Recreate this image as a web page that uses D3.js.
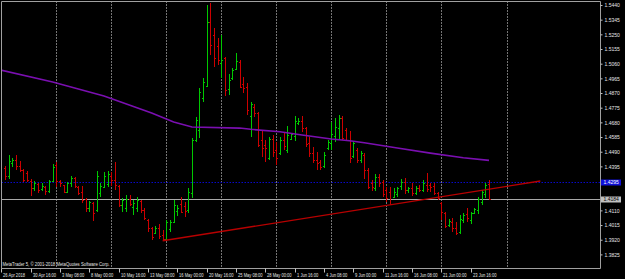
<!DOCTYPE html>
<html>
<head>
<meta charset="utf-8">
<script src="https://cdn.jsdelivr.net/npm/d3@7"></script>
<style>
  body { margin: 0; background: #000; }
  svg { display: block; }
  text { font-family: "Liberation Sans", Arial, sans-serif; }
</style>
</head>
<body>
<svg id="chart" width="625" height="279"></svg>
<script>
// H8 bars, oldest first
const open = [1.4385,1.4333,1.4417,1.4436,1.4398,1.4372,1.4352,1.4300,1.4255,1.4281,
  1.4249,1.4262,1.4236,1.4300,1.4404,1.4300,1.4274,1.4229,1.4287,1.4320,
  1.4262,1.4229,1.4184,1.4125,1.4158,1.4112,1.4223,1.4262,1.4281,1.4333,
  1.4307,1.4268,1.4145,1.4125,1.4184,1.4132,1.4125,1.4171,1.4112,1.4048,
  1.3996,1.3963,1.3996,1.3950,1.3924,1.3989,1.4035,1.4106,1.4151,1.4138,
  1.4112,1.4223,1.4566,1.4631,1.4838,1.4915,1.5330,1.5246,1.5175,1.5064,
  1.5097,1.4896,1.4967,1.5026,1.5071,1.4928,1.4909,1.4721,1.4780,1.4741,
  1.4566,1.4534,1.4450,1.4572,1.4501,1.4481,1.4566,1.4501,1.4572,1.4592,
  1.4676,1.4689,1.4644,1.4546,1.4481,1.4436,1.4423,1.4398,1.4514,1.4546,
  1.4592,1.4644,1.4708,1.4631,1.4566,1.4462,1.4501,1.4436,1.4469,1.4372,
  1.4287,1.4255,1.4326,1.4294,1.4242,1.4229,1.4197,1.4216,1.4268,1.4294,
  1.4242,1.4255,1.4223,1.4255,1.4242,1.4274,1.4274,1.4268,1.4223,1.4158,
  1.4093,1.4015,1.4035,1.3996,1.3970,1.4048,1.4087,1.4048,1.4093,1.4112,
  1.4164,1.4216,1.4281];
const high = [1.4398,1.4469,1.4450,1.4469,1.4430,1.4378,1.4365,1.4313,1.4300,1.4287,
  1.4287,1.4268,1.4307,1.4411,1.4423,1.4307,1.4274,1.4294,1.4333,1.4326,
  1.4268,1.4268,1.4190,1.4171,1.4164,1.4365,1.4287,1.4359,1.4365,1.4359,
  1.4423,1.4274,1.4190,1.4210,1.4210,1.4177,1.4197,1.4177,1.4125,1.4054,
  1.4002,1.4009,1.4022,1.3983,1.4048,1.4048,1.4177,1.4145,1.4197,1.4164,
  1.4255,1.4579,1.4715,1.4902,1.4967,1.5440,1.5453,1.5291,1.5226,1.5246,
  1.5103,1.4993,1.5032,1.5129,1.5084,1.4974,1.4935,1.4812,1.4799,1.4747,
  1.4631,1.4566,1.4585,1.4598,1.4553,1.4585,1.4618,1.4657,1.4611,1.4721,
  1.4708,1.4721,1.4650,1.4585,1.4520,1.4488,1.4436,1.4488,1.4566,1.4682,
  1.4708,1.4728,1.4721,1.4644,1.4624,1.4553,1.4514,1.4494,1.4481,1.4385,
  1.4307,1.4346,1.4346,1.4307,1.4262,1.4262,1.4255,1.4262,1.4313,1.4320,
  1.4262,1.4287,1.4268,1.4274,1.4307,1.4352,1.4287,1.4287,1.4229,1.4164,
  1.4099,1.4054,1.4061,1.4035,1.4080,1.4093,1.4125,1.4099,1.4125,1.4197,
  1.4242,1.4287,1.4307];
const low = [1.4307,1.4313,1.4391,1.4372,1.4359,1.4294,1.4294,1.4203,1.4236,1.4223,
  1.4236,1.4210,1.4223,1.4294,1.4262,1.4262,1.4223,1.4223,1.4262,1.4255,
  1.4210,1.4158,1.4099,1.4099,1.4041,1.4099,1.4197,1.4255,1.4262,1.4268,
  1.4242,1.4132,1.4099,1.4099,1.4138,1.4080,1.4099,1.4093,1.4048,1.3970,
  1.3918,1.3957,1.3924,1.3911,1.3918,1.3970,1.4028,1.4074,1.4093,1.4067,
  1.4093,1.4190,1.4553,1.4579,1.4812,1.4909,1.5116,1.5038,1.5051,1.4967,
  1.4851,1.4857,1.4954,1.5019,1.4902,1.4870,1.4728,1.4585,1.4715,1.4520,
  1.4456,1.4423,1.4436,1.4456,1.4404,1.4469,1.4501,1.4481,1.4566,1.4559,
  1.4663,1.4618,1.4520,1.4456,1.4417,1.4372,1.4372,1.4385,1.4501,1.4501,
  1.4553,1.4566,1.4566,1.4559,1.4417,1.4450,1.4417,1.4417,1.4313,1.4249,
  1.4236,1.4236,1.4262,1.4197,1.4164,1.4145,1.4190,1.4197,1.4242,1.4216,
  1.4223,1.4203,1.4210,1.4229,1.4229,1.4229,1.4229,1.4210,1.4177,1.4048,
  1.3996,1.4002,1.3970,1.3950,1.3957,1.4028,1.4035,1.4022,1.4087,1.4087,
  1.4145,1.4190,1.4177];
const close = [1.4333,1.4430,1.4436,1.4398,1.4372,1.4307,1.4307,1.4255,1.4287,1.4242,
  1.4268,1.4236,1.4300,1.4391,1.4300,1.4287,1.4229,1.4287,1.4320,1.4268,
  1.4223,1.4177,1.4125,1.4164,1.4093,1.4333,1.4268,1.4333,1.4346,1.4307,
  1.4274,1.4145,1.4177,1.4184,1.4151,1.4158,1.4177,1.4112,1.4061,1.3996,
  1.3937,1.3996,1.3944,1.3924,1.4035,1.4035,1.4145,1.4125,1.4099,1.4106,
  1.4229,1.4566,1.4695,1.4877,1.4941,1.5330,1.5181,1.5097,1.5084,1.5084,
  1.4890,1.4954,1.5019,1.5077,1.4909,1.4902,1.4760,1.4799,1.4741,1.4534,
  1.4514,1.4514,1.4572,1.4488,1.4450,1.4566,1.4527,1.4598,1.4605,1.4689,
  1.4689,1.4644,1.4540,1.4481,1.4436,1.4417,1.4391,1.4469,1.4553,1.4605,
  1.4650,1.4708,1.4579,1.4566,1.4450,1.4546,1.4436,1.4481,1.4372,1.4262,
  1.4262,1.4326,1.4287,1.4216,1.4190,1.4151,1.4229,1.4255,1.4294,1.4242,
  1.4255,1.4223,1.4255,1.4242,1.4287,1.4249,1.4262,1.4223,1.4190,1.4099,
  1.4009,1.4041,1.3996,1.3963,1.4054,1.4080,1.4061,1.4093,1.4119,1.4184,
  1.4229,1.4274,1.4184];

// moving average, read at a few bars
const maBars =   [-1.3, 13, 27, 40, 46, 51, 64, 67, 75, 81, 89, 94, 98, 107, 116, 125, 132];
const maValues = [1.5019,1.4941,1.4851,1.4741,1.4682,1.4650,1.4643,1.4635,1.4619,1.4598,
  1.4572,1.4561,1.4548,1.4514,1.4481,1.4451,1.4434];

// trend line
const trendBars = [43, 146];
const trendValues = [1.3913, 1.4300];

const levelPrice = 1.4295;

const priceTicks = [1.5440,1.5345,1.5250,1.5155,1.5060,1.4965,1.4870,1.4775,1.4680,1.4585,
  1.4490,1.4395,1.4300,1.4205,1.4110,1.4015,1.3920,1.3825];
const timeLabelBars = [-1, 7, 15, 23, 31, 39, 47, 55, 63, 71, 79, 87, 95, 103, 111, 119, 127];
const timeLabels = ["26 Apr 2018","30 Apr 16:00","3 May 08:00","8 May 00:00","10 May 16:00",
  "13 May 08:00","16 May 00:00","20 May 16:00","25 May 08:00","28 May 00:00","1 Jun 16:00",
  "4 Jun 08:00","9 Jun 00:00","11 Jun 16:00","16 Jun 08:00","21 Jun 00:00","23 Jun 16:00"];
const gridBars = [14, 29, 44, 59, 74, 89, 104, 119, 137];

const svg = d3.select("#chart");
const width = +svg.attr("width");
const height = +svg.attr("height");

const plotLeft = 1.5, plotRight = 600.5, plotTop = 1.5, plotBottom = 268.5;
const upColor = "#00c800", downColor = "#cc0000";
const fontSize = "5.5px";

const x = d3.scaleLinear().domain([0, 132]).range([5, 489]);
const y = d3.scaleLinear().domain([1.3825, 1.5440]).range([254.4, 5]);
const px = v => Math.round(x(v)) + 0.5;

// squeeze text horizontally (the chart font is a narrow one), keeping its left edge
function squeeze(sel, k) {
  sel.each(function() {
    const t = d3.select(this);
    const x0 = +t.attr("x") || 0;
    t.attr("x", x0 / k).attr("transform", `scale(${k},1)`);
  });
}

svg.append("rect").attr("width", width).attr("height", height).attr("fill", "#000");

svg.append("clipPath").attr("id", "plot")
  .append("rect").attr("x", plotLeft).attr("y", plotTop)
  .attr("width", plotRight - plotLeft).attr("height", plotBottom - plotTop);

const plot = svg.append("g").attr("clip-path", "url(#plot)");

// vertical dotted grid
plot.selectAll(".grid")
  .data(gridBars)
  .enter().append("line")
  .attr("x1", d => px(d)).attr("x2", d => px(d))
  .attr("y1", plotTop).attr("y2", plotBottom)
  .attr("stroke", "#e8e8e8")
  .attr("stroke-dasharray", "1,2");

// price level line (blue, dotted) and bid line (gray)
const levelY = Math.round(y(levelPrice)) + 0.5;
plot.append("line")
  .attr("x1", plotLeft).attr("x2", plotRight)
  .attr("y1", levelY).attr("y2", levelY)
  .attr("stroke", "#0808c8").attr("stroke-dasharray", "1.5,1.5");

const bid = close[close.length - 1];
const bidY = Math.round(y(bid)) + 0.5;
plot.append("line")
  .attr("x1", plotLeft).attr("x2", plotRight)
  .attr("y1", bidY).attr("y2", bidY)
  .attr("stroke", "#a8a8a8");

// bars
const bars = plot.selectAll(".bar")
  .data(open.map((o, i) => ({ i, o, h: high[i], l: low[i], c: close[i] })))
  .enter().append("g")
  .attr("class", "bar")
  .attr("fill", d => d.c >= d.o ? upColor : downColor)
  .attr("shape-rendering", "crispEdges");

bars.append("rect")
  .attr("x", d => Math.round(x(d.i)))
  .attr("y", d => Math.round(y(d.h)))
  .attr("width", 1)
  .attr("height", d => Math.max(1, Math.round(y(d.l)) - Math.round(y(d.h))));
bars.append("rect")
  .attr("x", d => Math.round(x(d.i)) - 1)
  .attr("y", d => Math.round(y(d.o)))
  .attr("width", 1).attr("height", 1);
bars.append("rect")
  .attr("x", d => Math.round(x(d.i)) + 1)
  .attr("y", d => Math.round(y(d.c)))
  .attr("width", 1).attr("height", 1);

// moving average
const line = d3.line().x(d => x(d[0])).y(d => y(d[1]));
plot.append("path")
  .datum(maBars.map((b, i) => [b, maValues[i]]))
  .attr("d", line)
  .attr("fill", "none")
  .attr("stroke", "#7a0fb0")
  .attr("stroke-width", 1.6);

// trend line
plot.append("path")
  .datum(trendBars.map((b, i) => [b, trendValues[i]]))
  .attr("d", line)
  .attr("fill", "none")
  .attr("stroke", "#b80000")
  .attr("stroke-width", 1.4);

// frame
svg.append("path")
  .attr("d", `M${plotLeft},${plotTop}H${plotRight}V${plotBottom}H${plotLeft}Z`)
  .attr("fill", "none").attr("stroke", "#a0a0a0");

// price axis, labels hidden under the tags are left out
const tagged = [levelPrice, bid];
const visibleTicks = priceTicks.filter(t => tagged.every(v => Math.abs(y(t) - y(v)) > 3.5));
const yAxis = svg.append("g")
  .attr("transform", `translate(${plotRight},0)`)
  .call(d3.axisRight(y).tickValues(visibleTicks).tickFormat(d3.format(".4f")).tickSize(2).tickPadding(2));
yAxis.select(".domain").remove();
yAxis.selectAll("line").attr("stroke", "#c0c0c0");
yAxis.selectAll("text").attr("fill", "#e6e6e6").attr("font-size", fontSize).call(squeeze, 0.92);

// price tags for the level and bid lines
function priceTag(v, fill, color) {
  const g = svg.append("g").attr("transform", `translate(${plotRight},${Math.round(y(v)) + 0.5})`);
  g.append("rect").attr("x", 0.5).attr("y", -3).attr("width", 20).attr("height", 6).attr("fill", fill);
  g.append("text").attr("x", 3).attr("dy", "0.34em").attr("font-size", fontSize)
    .attr("fill", color).text(d3.format(".4f")(v)).call(squeeze, 0.92);
}
priceTag(levelPrice, "#1010d8", "#ffffff");
priceTag(bid, "#c0c0c0", "#000000");

// time axis
const xAxis = svg.append("g")
  .attr("transform", `translate(0,${plotBottom})`)
  .call(d3.axisBottom(x).tickValues(timeLabelBars).tickFormat((d, i) => timeLabels[i]).tickSize(4).tickPadding(0.5));
xAxis.select(".domain").remove();
xAxis.selectAll(".tick").attr("transform", d => `translate(${Math.max(plotLeft, Math.round(x(d)) + 0.5)},0)`);
xAxis.selectAll("line").attr("stroke", "#c0c0c0");
xAxis.selectAll("text")
  .attr("text-anchor", "start").attr("x", 1.5)
  .attr("fill", "#e6e6e6").attr("font-size", fontSize)
  .call(squeeze, 0.74);

svg.append("text")
  .attr("x", 2.5).attr("y", plotBottom - 2.5)
  .attr("fill", "#e6e6e6").attr("font-size", fontSize)
  .text("MetaTrader 5, © 2001-2018 MetaQuotes Software Corp.")
  .call(squeeze, 0.78);
</script>
</body>
</html>
